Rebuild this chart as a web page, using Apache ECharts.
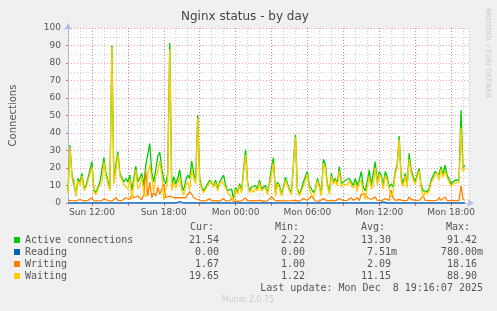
<!DOCTYPE html>
<html><head><meta charset="utf-8">
<script src="https://cdn.jsdelivr.net/npm/echarts@6/dist/echarts.min.js"></script>
<style>html,body{margin:0;padding:0;background:#f0f0f0}#c{width:497px;height:311px}</style>
</head><body><div id="c"></div>
<script>
// time of first sample (hours since Sun 00:00) and sample step (10 min)
const startHour = 10;
const stepHours = 1 / 6;

const active = [
  7, 33, 16, 15, 5, 14, 12, 17, 8.5, 10,
  14, 14, 23.6, 7.5, 6, 6, 12, 13, 26, 17,
  18, 8, 90, 12, 22, 29.3, 17, 18, 12, 14,
  12, 16, 7, 14, 21, 12, 13, 17, 10, 21.7,
  21, 34, 17, 12, 19, 26.6, 29, 20, 13, 11,
  17, 91.42, 10, 15, 11, 14, 19, 10, 7, 13,
  16, 14, 24, 17, 13, 50.3, 14, 9, 7, 8,
  11, 13, 14, 10, 13, 8, 12, 14, 16, 10,
  7, 6, 8, 2.22, 9, 6, 11, 7, 8, 30.5,
  12, 7, 9, 8, 10, 8, 13, 8, 7, 10,
  6, 12, 20, 26, 5, 12, 10, 5, 9, 14.7,
  11, 8, 6, 7, 39, 8, 5, 8, 12, 11,
  18, 10, 9, 6, 8, 14, 10, 5, 25, 22,
  11, 6, 17, 12, 14, 11, 20.8, 11, 12, 13,
  12, 14, 13, 10, 14, 10, 13, 18, 9, 7,
  12, 19, 10, 11, 23.6, 12, 18, 16, 10, 18,
  15, 9, 11, 9, 18, 21.7, 38.3, 15, 11, 17,
  10, 28.4, 19, 15, 12, 16, 19.8, 10, 7, 8,
  6.5, 8, 13, 13, 18, 19, 16, 20.8, 16, 21.7,
  16, 17, 11, 12, 13, 12, 13, 53, 20, 21.54
];
const reading = [
  0, 0, 0, 0, 0, 0, 0, 0, 0, 0,
  0, 0, 0, 0, 0, 0, 0, 0, 0, 0,
  0, 0, 0, 0, 0, 0, 0, 0, 0, 0,
  0, 0, 0, 0, 0, 0, 0, 0, 0, 0,
  0, 0, 0, 0, 0, 0, 0, 0, 0, 0,
  0, 0, 0, 0, 0, 0, 0.78, 0, 0, 0,
  0, 0, 0, 0, 0, 0, 0, 0, 0, 0,
  0, 0, 0, 0, 0, 0, 0, 0, 0, 0,
  0, 0, 0, 0, 0, 0, 0, 0, 0, 0,
  0, 0, 0, 0, 0, 0, 0, 0, 0, 0,
  0, 0, 0, 0, 0, 0, 0, 0, 0, 0,
  0, 0, 0, 0, 0, 0, 0, 0, 0, 0,
  0, 0, 0, 0, 0, 0, 0, 0, 0, 0,
  0, 0, 0, 0, 0, 0, 0, 0, 0, 0,
  0, 0, 0, 0, 0, 0.5, 0, 0, 0, 0,
  0, 0, 0, 0, 0, 0, 0, 0, 0.6, 0,
  0, 0, 0, 0, 0, 0, 0, 0, 0, 0,
  0, 0, 0, 0, 0, 0, 0, 0, 0, 0,
  0, 0, 0, 0, 0, 0, 0, 0, 0, 0,
  0, 0, 0, 0, 0, 0, 0, 0, 0, 0
];
const writing = [
  1.5, 1.2, 1.3, 1.5, 1.2, 1.4, 2, 1.5, 1.2, 1.3,
  1.5, 1.2, 3, 1.2, 1.1, 1.2, 1.5, 1.3, 2.5, 1.5,
  1.4, 1.2, 1.1, 1.3, 3, 1.5, 1.2, 1.4, 1.3, 3,
  4, 2, 5, 3, 2, 4, 3, 2, 5, 18.16,
  4, 12, 3, 6, 4, 9, 5, 4, 11, 3,
  4, 3.9, 3, 3, 2.5, 3, 3.5, 3, 2.5, 3,
  4, 6.5, 5, 3, 2, 2, 1.5, 1.2, 1.1, 1.2,
  1.3, 2.5, 1.2, 1.1, 1.3, 1.2, 1, 1.5, 2.5, 1.2,
  1.1, 1.3, 2.5, 1.0, 1.2, 1, 1.3, 1.2, 1.5, 3,
  1.2, 1.1, 1.3, 2, 1.2, 1.1, 1.5, 1.2, 1, 1.3,
  1.2, 1.5, 3.6, 3, 1.2, 1.1, 1.3, 1, 1.2, 1.5,
  1.2, 1.1, 1.3, 1.2, 1.5, 1.1, 1, 1.3, 2.5, 1.5,
  1.5, 2.5, 4, 3, 1.2, 1.3, 1.1, 1, 2.5, 2,
  1.2, 1.1, 1.5, 1.3, 1.2, 1.1, 2.5, 2, 1.3, 1.2,
  1.5, 1.3, 3, 1.5, 2.5, 3, 1.4, 5, 4, 5,
  3, 4, 2, 1.5, 3.5, 1.5, 2, 1.3, 1.5, 2.5,
  2, 1.5, 7.4, 3, 1.5, 1.3, 2, 3, 1.4, 1.5,
  1.3, 3.5, 2, 1.4, 1.5, 1.3, 1.5, 1.3, 4, 1.5,
  1.2, 1.3, 1.5, 1.4, 2.5, 1.5, 3, 1.5, 1.3, 3.5,
  1.4, 1.5, 1.3, 1.2, 1.5, 1.3, 1.4, 10, 2, 1.67
];
const waiting = [
  5.5, 31.8, 14.7, 13.5, 3.8, 12.6, 10, 15.5, 7.3, 8.7,
  12.5, 12.8, 20.6, 6.3, 4.9, 4.8, 10.5, 11.7, 23.5, 15.5,
  16.6, 6.8, 88.9, 10.7, 19, 27.8, 15.8, 16.6, 10.7, 11,
  8, 14, 2, 11, 19, 8, 10, 15, 5, 3.54,
  17, 22, 14, 6, 15, 17.6, 24, 16, 2, 8,
  13, 87.52, 7, 12, 8.5, 11, 14.72, 7, 4.5, 10,
  12, 7.5, 19, 14, 11, 48.3, 12.5, 7.8, 5.9, 6.8,
  9.7, 10.5, 12.8, 8.9, 11.7, 6.8, 11, 12.5, 13.5, 8.8,
  5.9, 4.7, 5.5, 1.22, 7.8, 5, 9.7, 5.8, 6.5, 27.5,
  10.8, 5.9, 7.7, 6, 8.8, 6.9, 11.5, 6.8, 6, 8.7,
  4.8, 10.5, 16.4, 23, 3.8, 10.9, 8.7, 4, 7.8, 13.2,
  9.8, 6.9, 4.7, 5.8, 37.5, 6.9, 4, 6.7, 9.5, 9.5,
  16.5, 7.5, 5, 3, 6.8, 12.7, 8.9, 4, 22.5, 20,
  9.8, 4.9, 15.5, 10.7, 12.8, 9.9, 18.3, 9, 10.7, 11.8,
  10.5, 12.7, 10, 8.5, 11.5, 6.5, 11.6, 13, 5, 2,
  9, 15, 8, 9.5, 20.1, 10.5, 16, 14.7, 7.9, 15.5,
  13, 7.5, 3.6, 6, 16.5, 20.4, 36.3, 12, 9.6, 15.5,
  8.7, 24.9, 17, 13.6, 10.5, 14.7, 18.3, 8.7, 3, 6.5,
  5.3, 6.7, 11.5, 11.6, 15.5, 17.5, 13, 19.3, 14.7, 18.2,
  14.6, 15.5, 9.7, 10.8, 11.5, 10.7, 11.6, 43, 18, 19.65
];

const seriesNames = ['Active connections', 'Reading', 'Writing', 'Waiting'];
const seriesColors = ['#00CC00', '#0066B3', '#FF8000', '#FFCC00'];
const curVals = ['21.54', '0.00', '1.67', '19.65'];
const minVals = ['2.22', '0.00', '1.00', '1.22'];
const avgVals = ['13.30', '7.51m', '2.09', '11.15'];
const maxVals = ['91.42', '780.00m', '18.16', '88.90'];
const colHeaders = ['Cur:', 'Min:', 'Avg:', 'Max:'];

const xTickHours = [12, 18, 24, 30, 36, 42];
const xTickLabels = ['Sun 12:00', 'Sun 18:00', 'Mon 00:00', 'Mon 06:00', 'Mon 12:00', 'Mon 18:00'];
const majorGridHours = [12, 15, 18, 21, 24, 27, 30, 33, 36, 39, 42];
const xMin = 10, xMax = 43.5;
const yMin = 0, yMax = 100, yStep = 10;

const titleText = 'Nginx status - by day';
const yName = 'Connections';
const lastUpdate = 'Last update: Mon Dec  8 19:16:07 2025';
const footer = 'Munin 2.0.75';
const sideText = 'RRDTOOL / TOBI OETIKER';

function pairs(arr) { return arr.map((v, i) => [startHour + i * stepHours, v]); }
const allData = [active, reading, writing, waiting];

const mono = 'DejaVu Sans Mono';
const sans = 'DejaVu Sans';
const txt = '#555';
const red = 'rgba(255,0,0,0.38)';
const grey = 'rgba(120,120,120,0.35)';
const axisCol = '#b4bcf0';

const graphics = [];
const colLeft = [190, 275, 361, 446];
const colRight = [225, 311, 397, 483];
colHeaders.forEach((h, j) => graphics.push({ type: 'text', x: colLeft[j], y: 227,
  style: { text: h, font: '10px ' + mono, fill: txt, align: 'left', verticalAlign: 'middle' } }));
[curVals, minVals, avgVals, maxVals].forEach((col, j) => {
  col.forEach((v, r) => {
    const s = /[a-zA-Z]$/.test(v) ? v : v + ' ';
    graphics.push({ type: 'text', x: colRight[j], y: 240 + r * 12,
      style: { text: s, font: '10px ' + mono, fill: txt, align: 'right', verticalAlign: 'middle' } });
  });
});
graphics.push({ type: 'text', x: 483, y: 288,
  style: { text: lastUpdate, font: '10px ' + mono, fill: txt, align: 'right', verticalAlign: 'middle' } });
graphics.push({ type: 'text', x: 248, y: 300,
  style: { text: footer, font: '8px ' + sans, fill: '#cccccc', align: 'center', verticalAlign: 'middle' } });
graphics.push({ type: 'text', x: 488, y: 53, rotation: -Math.PI / 2,
  style: { text: sideText, font: '7px ' + sans, fill: '#c8c8c8', align: 'center', verticalAlign: 'middle' } });

const chart = echarts.init(document.getElementById('c'), null, { renderer: 'canvas' });
chart.setOption({
  animation: false,
  backgroundColor: '#f0f0f0',
  title: { text: titleText, left: 181, top: 11, padding: 0,
    textStyle: { fontFamily: sans, fontSize: 12, fontWeight: 'normal', color: '#444' } },
  legend: {
    data: seriesNames, orient: 'vertical', left: 14, top: 234, padding: 0, itemGap: 0,
    itemWidth: 6, itemHeight: 6, icon: 'rect', selectedMode: false,
    itemStyle: { borderWidth: 0 },
    textStyle: { fontFamily: mono, fontSize: 10, color: txt, lineHeight: 12 }
  },
  grid: { left: 67, right: 28, top: 28, bottom: 108, show: true, backgroundColor: '#ffffff', borderWidth: 0 },
  xAxis: [{
    type: 'value', min: xMin, max: xMax, z: 3,
    axisLine: { show: true, lineStyle: { color: axisCol, width: 1 }, symbol: ['none', 'arrow'], symbolSize: [6, 7], symbolOffset: [0, 5] },
    axisTick: { show: true, customValues: majorGridHours, length: 3, lineStyle: { color: 'rgba(255,0,0,0.6)' } },
    axisLabel: { customValues: xTickHours, margin: 5, fontFamily: sans, fontSize: 9, color: txt,
      formatter: v => { const k = xTickHours.indexOf(Math.round(v)); return k >= 0 ? xTickLabels[k] : ''; } },
    splitLine: { show: true, lineStyle: { color: red, type: [1, 2], width: 1 } }
  }, {
    type: 'value', min: xMin, max: xMax, interval: 1, position: 'bottom', z: 1,
    axisLine: { show: false }, axisTick: { show: false }, axisLabel: { show: false },
    splitLine: { show: true, lineStyle: { color: grey, type: [1, 2], width: 1 } }
  }],
  yAxis: {
    type: 'value', min: yMin, max: yMax, interval: yStep,
    name: yName, nameLocation: 'middle', nameGap: 50,
    nameTextStyle: { fontFamily: sans, fontSize: 10, color: txt },
    axisLine: { show: true, lineStyle: { color: axisCol, width: 1 }, symbol: ['none', 'arrow'], symbolSize: [6, 7], symbolOffset: [0, 5] },
    axisTick: { show: true, length: 2, lineStyle: { color: 'rgba(255,0,0,0.6)' } },
    axisLabel: { margin: 7, fontFamily: sans, fontSize: 9, color: txt },
    splitLine: { show: true, lineStyle: { color: red, type: [1, 2], width: 1 } },
    minorTick: { show: false, splitNumber: 2 },
    minorSplitLine: { show: true, lineStyle: { color: grey, type: [1, 2], width: 1 } }
  },
  series: seriesNames.map((n, k) => ({
    name: n, type: 'line', xAxisIndex: 0, data: pairs(allData[k]), showSymbol: false, symbol: 'none',
    color: seriesColors[k], lineStyle: { width: 1.3, color: seriesColors[k] }, z: 5 + k
  })),
  graphic: graphics
});
</script></body></html>
